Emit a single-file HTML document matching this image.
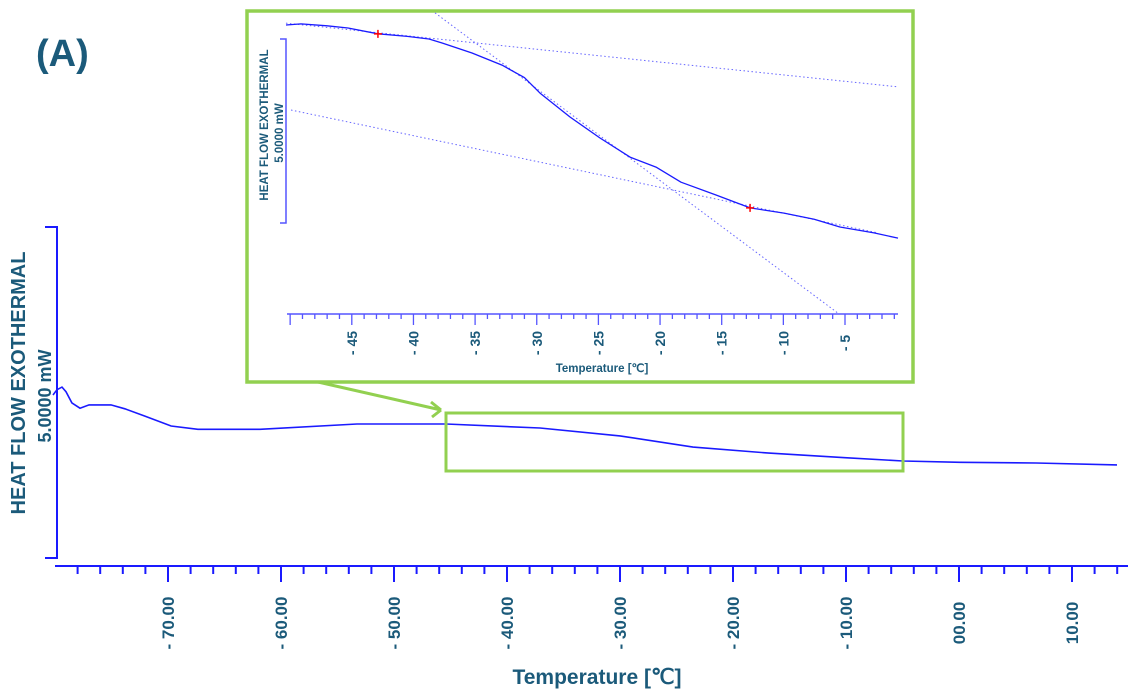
<!DOCTYPE html>
<html><head><meta charset="utf-8"><style>
html,body{margin:0;padding:0;background:#fff;}
svg{display:block;font-family:"Liberation Sans",sans-serif;}
</style></head><body>
<svg id="c" width="1129" height="694" viewBox="0 0 1129 694"></svg>
<script>
// Main chart data
const mainTemps = [-80.18,-79.82,-79.38,-79.03,-78.50,-77.79,-76.99,-75.04,-73.81,-72.04,-69.73,-67.35,-61.86,-53.27,-45.40,-37.08,-30.00,-23.54,-16.81,-10.09,-4.96,0.09,6.81,13.98];
const mainHeat = [2.47,2.55,2.59,2.52,2.35,2.27,2.32,2.32,2.26,2.15,2.00,1.95,1.95,2.03,2.03,1.97,1.85,1.68,1.59,1.52,1.47,1.45,1.44,1.41];
const mainTickLabels = ["- 70.00","- 60.00","- 50.00","- 40.00","- 30.00","- 20.00","- 10.00","00.00","10.00"];
const mainTickValues = [-70,-60,-50,-40,-30,-20,-10,0,10];
// Inset data
const insetTemps = [-50.34,-49.12,-47.0,-45.31,-42.88,-40.5,-38.74,-37.68,-35.25,-32.82,-31.0,-29.74,-27.30,-24.87,-22.44,-20.33,-18.30,-15.46,-12.70,-9.95,-7.5,-5.41,-2.65,-0.70];
const insetHeat = [5.38,5.41,5.36,5.30,5.14,5.07,5.00,4.89,4.62,4.29,3.95,3.53,2.88,2.31,1.79,1.52,1.11,0.76,0.41,0.27,0.10,-0.11,-0.27,-0.41];
const insetTickLabels = ["- 45","- 40","- 35","- 30","- 25","- 20","- 15","- 10","- 5"];
const insetTickValues = [-45,-40,-35,-30,-25,-20,-15,-10,-5];
const onsetPoints = [[-42.88,5.14],[-12.70,0.41]];
const tangentLines = [[[-50.34,5.43],[-0.70,3.70]],[[-49.93,3.07],[-2.32,-0.27]],[[-38.25,5.71],[-5.57,-2.45]]];

const NS="http://www.w3.org/2000/svg";
const svg=document.getElementById('c');
function mk(tag,attrs,parent){const e=document.createElementNS(NS,tag);for(const k in attrs)e.setAttribute(k,attrs[k]);(parent||svg).appendChild(e);return e;}
const TXT="#1b5a7a", BLUE="#1a1aff", GREEN="#92d050";

const mx=t=>168+(t+70)*11.3;
const my=v=>558-v*66;
const ix=t=>845+(t+5)*12.33;
const iy=v=>223-v*36.8;

let t=mk('text',{x:36,y:66,'font-size':38,'font-weight':'bold',fill:TXT});t.textContent="(A)";



let ya=mk('path',{d:"M45,227 H57 V558 H45",fill:'none',stroke:BLUE,'stroke-width':2});


t=mk('text',{transform:'translate(25,383) rotate(-90)','text-anchor':'middle','font-size':20,'font-weight':'bold',fill:TXT});t.textContent="HEAT FLOW EXOTHERMAL";


t=mk('text',{transform:'translate(51,396) rotate(-90)','text-anchor':'middle','font-size':18,'font-weight':'bold',fill:TXT});t.textContent="5.0000 mW";



let xa=mk('line',{x1:55,y1:566,x2:1128,y2:566,stroke:BLUE,'stroke-width':2});


for(let v=-78;v<=14;v+=2){
  const major=v%10===0;
  const l=mk('line',{x1:mx(v),y1:566,x2:mx(v),y2:major?582:574,stroke:BLUE,'stroke-width':2});
  
  
}
mainTickValues.forEach((v,i)=>{
  const e=mk('text',{transform:`translate(${mx(v)+6},623) rotate(-90)`,'text-anchor':'middle','font-size':17,'font-weight':'bold',fill:TXT});
  e.textContent=mainTickLabels[i];
  
  
});
t=mk('text',{x:597,y:684,'text-anchor':'middle','font-size':21,'font-weight':'bold',fill:TXT});t.textContent="Temperature [℃]";



let d=mainTemps.map((x,i)=>(i?'L':'M')+mx(x).toFixed(1)+','+my(mainHeat[i]).toFixed(1)).join(' ');
let cv=mk('path',{d:d,fill:'none',stroke:BLUE,'stroke-width':1.6});



let zb=mk('rect',{x:446,y:413,width:457,height:58,fill:'none',stroke:GREEN,'stroke-width':3});


let ar=mk('path',{d:"M318,382 L441,410 M441,410 L431,402 M441,410 L432,417",fill:'none',stroke:GREEN,'stroke-width':3});



let ib=mk('rect',{x:247,y:11,width:666,height:371,fill:'#fff',stroke:GREEN,'stroke-width':3.5});


let iya=mk('path',{d:"M280,39 H286 V223 H280",fill:'none',stroke:'#5555ff','stroke-width':1.5});


t=mk('text',{transform:'translate(268,125) rotate(-90)','text-anchor':'middle','font-size':11.5,'font-weight':'bold',fill:TXT});t.textContent="HEAT FLOW EXOTHERMAL";


t=mk('text',{transform:'translate(283,133) rotate(-90)','text-anchor':'middle','font-size':11.5,'font-weight':'bold',fill:TXT});t.textContent="5.0000 mW";


let ixa=mk('line',{x1:287,y1:314,x2:898,y2:314,stroke:'#5555ff','stroke-width':1.5});


for(let v=-50;v<=-1;v++){
  const major=v%5===0;
  const l=mk('line',{x1:ix(v),y1:314,x2:ix(v),y2:major?325:319,stroke:'#5555ff','stroke-width':1.3});
  
  
}
insetTickValues.forEach((v,i)=>{
  const e=mk('text',{transform:`translate(${ix(v)+5},343) rotate(-90)`,'text-anchor':'middle','font-size':14,'font-weight':'bold',fill:TXT});
  e.textContent=insetTickLabels[i];
  
  
});
t=mk('text',{x:602,y:372,'text-anchor':'middle','font-size':11.5,'font-weight':'bold',fill:TXT});t.textContent="Temperature [℃]";


tangentLines.forEach(p=>{
  const l=mk('line',{x1:ix(p[0][0]),y1:iy(p[0][1]),x2:ix(p[1][0]),y2:iy(p[1][1]),stroke:'#6666ff','stroke-width':1,'stroke-dasharray':'1.5 2.5'});
  
  
});
d=insetTemps.map((x,i)=>(i?'L':'M')+ix(x).toFixed(1)+','+iy(insetHeat[i]).toFixed(1)).join(' ');
let ic=mk('path',{d:d,fill:'none',stroke:BLUE,'stroke-width':1.3,'stroke-linejoin':'round'});


onsetPoints.forEach(p=>{
  const x=ix(p[0]),y=iy(p[1]);
  const m=mk('path',{d:`M${x-4},${y} H${x+4} M${x},${y-4} V${y+4}`,stroke:'#ff0000','stroke-width':1.5});
  
  
});
</script>
</body></html>
